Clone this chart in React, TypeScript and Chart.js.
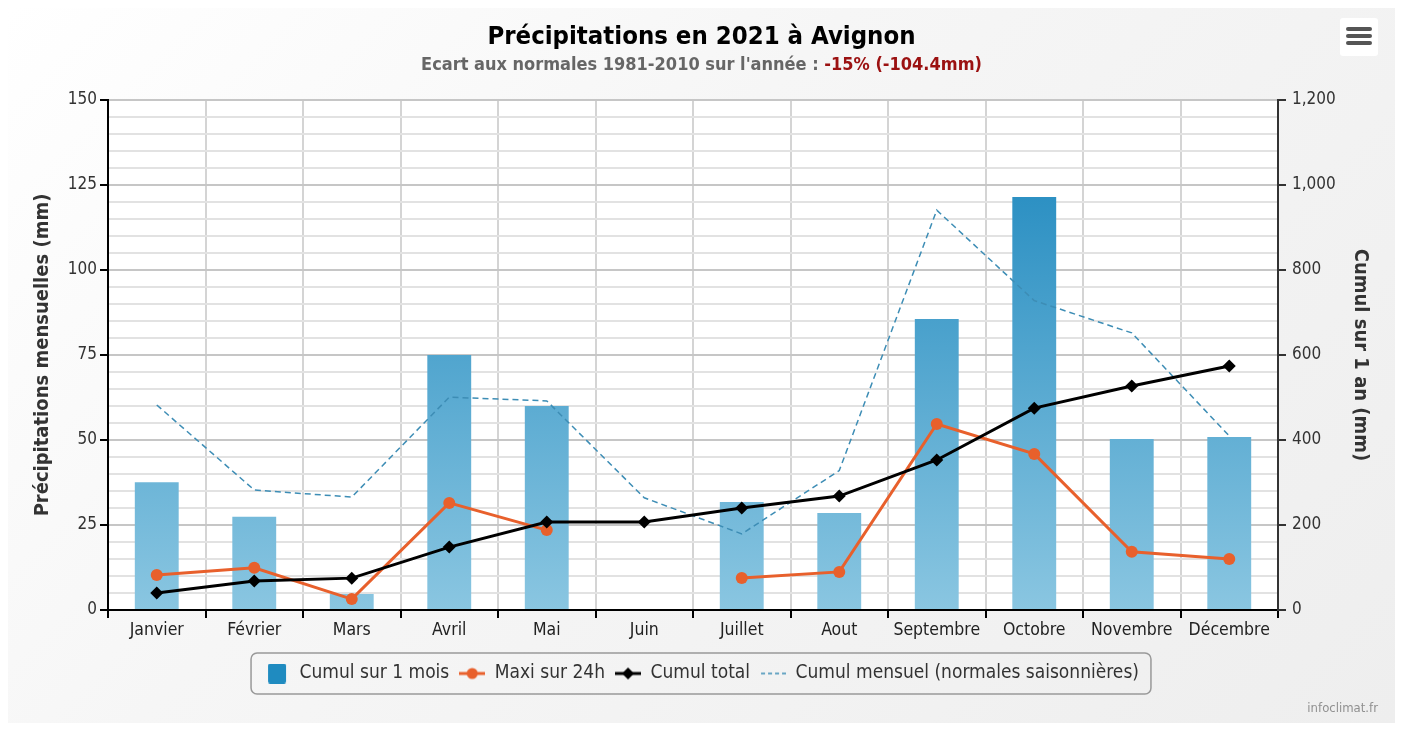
import React, { useEffect, useRef } from "react";
import { Chart, registerables } from "chart.js";

Chart.register(...registerables);

const FONT = "'DejaVu Sans Condensed', 'Open Sans', sans-serif";

const months = ["Janvier", "Février", "Mars", "Avril", "Mai", "Juin", "Juillet", "Aout", "Septembre", "Octobre", "Novembre", "Décembre"];
const cumulMois = [37.6, 27.4, 4.7, 75, 60, 0, 31.8, 28.5, 85.6, 121.5, 50.3, 50.9];
const maxi24h: (number | null)[] = [10.3, 12.4, 3.2, 31.5, 23.5, null, 9.4, 11.2, 54.7, 45.9, 17.1, 15];
const cumulTotal = [40, 68, 75, 148, 207, 207, 240, 268, 353, 475, 527, 574];
const normales = [60.3, 35.3, 33.2, 62.6, 61.5, 33, 22.4, 41, 117.6, 91, 81.5, 51.2];
const legendLabels = ["Cumul sur 1 mois", "Maxi sur 24h", "Cumul total", "Cumul mensuel (normales saisonnières)"];

function makeIcon(kind: string): HTMLCanvasElement {
  const c = document.createElement("canvas");
  const w = kind === "bar" ? 20 : 26;
  const h = 20;
  c.width = w;
  c.height = h;
  const g = c.getContext("2d")!;
  if (kind === "bar") {
    g.fillStyle = "#1f8bc0";
    g.beginPath();
    g.roundRect(1, 0, 18, 20, 2);
    g.fill();
  } else if (kind === "orange") {
    g.strokeStyle = "#e8602c";
    g.lineWidth = 3;
    g.beginPath();
    g.moveTo(0, 10);
    g.lineTo(26, 10);
    g.stroke();
    g.fillStyle = "#e8602c";
    g.beginPath();
    g.arc(13, 10, 5.5, 0, Math.PI * 2);
    g.fill();
  } else if (kind === "black") {
    g.strokeStyle = "#000";
    g.lineWidth = 3;
    g.beginPath();
    g.moveTo(0, 10);
    g.lineTo(26, 10);
    g.stroke();
    g.fillStyle = "#000";
    g.beginPath();
    g.moveTo(13, 4);
    g.lineTo(19, 10);
    g.lineTo(13, 16);
    g.lineTo(7, 10);
    g.closePath();
    g.fill();
  } else {
    g.strokeStyle = "#3d8db5";
    g.lineWidth = 1.5;
    g.setLineDash([4, 3]);
    g.beginPath();
    g.moveTo(1, 10);
    g.lineTo(26, 10);
    g.stroke();
  }
  return c;
}

const bgPlugin = {
  id: "plotBg",
  beforeDraw(chart: any) {
    const { ctx, chartArea } = chart;
    if (!chartArea) return;
    ctx.save();
    ctx.fillStyle = "#ffffff";
    ctx.fillRect(chartArea.left, chartArea.top, chartArea.right - chartArea.left, chartArea.bottom - chartArea.top);
    ctx.restore();
  },
};

const legendBorderPlugin = {
  id: "legendBorder",
  afterDraw(chart: any) {
    const lg = chart.legend;
    if (!lg || !lg.legendHitBoxes || !lg.legendHitBoxes.length) return;
    const boxes = lg.legendHitBoxes;
    let l = Infinity, r = -Infinity, t = Infinity, b = -Infinity;
    for (const hb of boxes) {
      l = Math.min(l, hb.left);
      r = Math.max(r, hb.left + hb.width);
      t = Math.min(t, hb.top);
      b = Math.max(b, hb.top + hb.height);
    }
    const { ctx } = chart;
    ctx.save();
    ctx.strokeStyle = "#999999";
    ctx.lineWidth = 1.5;
    ctx.beginPath();
    ctx.roundRect(l - 13, t - 11, r - l + 25, b - t + 22, 6);
    ctx.stroke();
    ctx.restore();
  },
};

export default function App() {
  const ref = useRef<HTMLCanvasElement>(null);
  useEffect(() => {
    if (!ref.current) return;
    const icons = [makeIcon("bar"), makeIcon("orange"), makeIcon("black"), makeIcon("dash")];
    const barGradient = (ctx: any) => {
      const area = ctx.chart.chartArea;
      if (!area) return "#5aaad4";
      const g = ctx.chart.ctx.createLinearGradient(0, area.top, 0, area.bottom);
      g.addColorStop(0, "#1784bc");
      g.addColorStop(1, "#8ac6e1");
      return g;
    };
    const chart = new Chart(ref.current, {
      type: "bar",
      data: {
        labels: months,
        datasets: [
          {
            type: "bar",
            label: legendLabels[0],
            data: cumulMois,
            backgroundColor: barGradient,
            borderWidth: 0,
            barPercentage: 0.9,
            categoryPercentage: 0.5,
            yAxisID: "y",
            order: 4,
          },
          {
            type: "line",
            label: legendLabels[1],
            data: maxi24h,
            borderColor: "#e8602c",
            backgroundColor: "#e8602c",
            borderWidth: 3,
            pointRadius: 6,
            pointBorderWidth: 0,
            pointHoverRadius: 6,
            spanGaps: false,
            yAxisID: "y",
            order: 2,
          },
          {
            type: "line",
            label: legendLabels[2],
            data: cumulTotal,
            borderColor: "#000000",
            backgroundColor: "#000000",
            borderWidth: 3,
            pointStyle: "rectRot",
            pointRadius: 6.5,
            pointBorderWidth: 0,
            yAxisID: "y1",
            order: 1,
          },
          {
            type: "line",
            label: legendLabels[3],
            data: normales,
            borderColor: "#3d8db5",
            borderWidth: 1.5,
            borderDash: [6, 4],
            pointRadius: 0,
            yAxisID: "y",
            order: 3,
          },
        ],
      },
      options: {
        animation: false,
        responsive: false,
        maintainAspectRatio: false,
        layout: { padding: { left: 19, right: 19, top: 92, bottom: 30 } },
        plugins: {
          title: { display: false },
          tooltip: { enabled: false },
          legend: {
            position: "bottom",
            labels: {
              usePointStyle: true,
              pointStyleWidth: 26,
              boxHeight: 19,
              padding: 10,
              color: "#333333",
              font: { family: FONT, size: 19 },
              generateLabels: () =>
                legendLabels.map((t, i) => ({
                  text: t,
                  pointStyle: icons[i] as any,
                  fillStyle: "transparent",
                  strokeStyle: "transparent",
                  lineWidth: 0,
                  hidden: false,
                  datasetIndex: i,
                  fontColor: "#333333",
                })),
            },
          },
        },
        scales: {
          x: {
            offset: true,
            grid: { offset: true, color: "#d4d4d4", lineWidth: 2, tickColor: "#000", tickLength: 8, drawTicks: true },
            border: { color: "#000", width: 2 },
            ticks: { color: "#222", font: { family: FONT, size: 17.5 }, padding: 2, maxRotation: 0, autoSkip: false },
            afterFit: (s: any) => { s.height = 44; },
          },
          y: {
            position: "left",
            min: 0,
            max: 150,
            ticks: {
              stepSize: 5,
              autoSkip: false,
              color: "#333",
              font: { family: FONT, size: 17 },
              padding: 3,
              callback: (v: any) => (Number(v) % 25 === 0 ? String(v) : ""),
            },
            grid: {
              color: (c: any) => (c.tick && c.tick.value % 25 === 0 ? "#c6c6c6" : "#e2e2e2"),
              lineWidth: 2,
              tickColor: (c: any) => (c.tick && c.tick.value % 25 === 0 ? "#000" : "rgba(0,0,0,0)"),
              tickLength: 8,
            },
            border: { color: "#000", width: 2 },
            title: {
              display: true,
              text: "Précipitations mensuelles (mm)",
              color: "#333",
              font: { family: FONT, size: 20, weight: "bold" },
            },
            afterFit: (s: any) => { s.width = 81; },
          },
          y1: {
            position: "right",
            min: 0,
            max: 1200,
            ticks: {
              stepSize: 200,
              color: "#333",
              font: { family: FONT, size: 17 },
              padding: 6,
              callback: (v: any) => Number(v).toLocaleString("en-US"),
            },
            grid: { drawOnChartArea: false, tickColor: "#333", tickLength: 8, lineWidth: 2 },
            border: { color: "#333", width: 2 },
            title: {
              display: true,
              text: "Cumul sur 1 an (mm)",
              color: "#333",
              font: { family: FONT, size: 20, weight: "bold" },
            },
            afterFit: (s: any) => { s.width = 98; },
          },
        },
      },
      plugins: [bgPlugin, legendBorderPlugin],
    } as any);
    return () => chart.destroy();
  }, []);

  return (
    <div
      style={{
        position: "relative",
        width: 1387,
        height: 715,
        background: "linear-gradient(135deg, #ffffff 0%, #f6f6f6 40%, #eeeeee 100%)",
        fontFamily: FONT,
      }}
    >
      <canvas ref={ref} width={1387} height={715} style={{ position: "absolute", left: 0, top: 0, display: "block" }} />
      <div
        style={{
          position: "absolute",
          left: 0,
          width: 1387,
          top: 10,
          textAlign: "center",
          fontSize: 25.5,
          fontWeight: "bold",
          color: "#000",
          lineHeight: "34px",
        }}
      >
        Précipitations en 2021 à Avignon
      </div>
      <div
        style={{
          position: "absolute",
          left: 0,
          width: 1387,
          top: 45,
          textAlign: "center",
          fontSize: 18,
          fontWeight: "bold",
          color: "#666",
          lineHeight: "22px",
        }}
      >
        Ecart aux normales 1981-2010 sur l'année : <span style={{ color: "#9b1111" }}>-15% (-104.4mm)</span>
      </div>
      <div
        style={{
          position: "absolute",
          left: 1332,
          top: 10,
          width: 38,
          height: 38,
          background: "#fff",
          borderRadius: 3,
        }}
      >
        {[0, 1, 2].map((i) => (
          <div
            key={i}
            style={{ position: "absolute", left: 6, top: 9 + i * 7, width: 26, height: 4, borderRadius: 2, background: "#555" }}
          />
        ))}
      </div>
      <div
        style={{ position: "absolute", right: 17, top: 692, fontSize: 13, color: "#909090" }}
      >
        infoclimat.fr
      </div>
    </div>
  );
}
